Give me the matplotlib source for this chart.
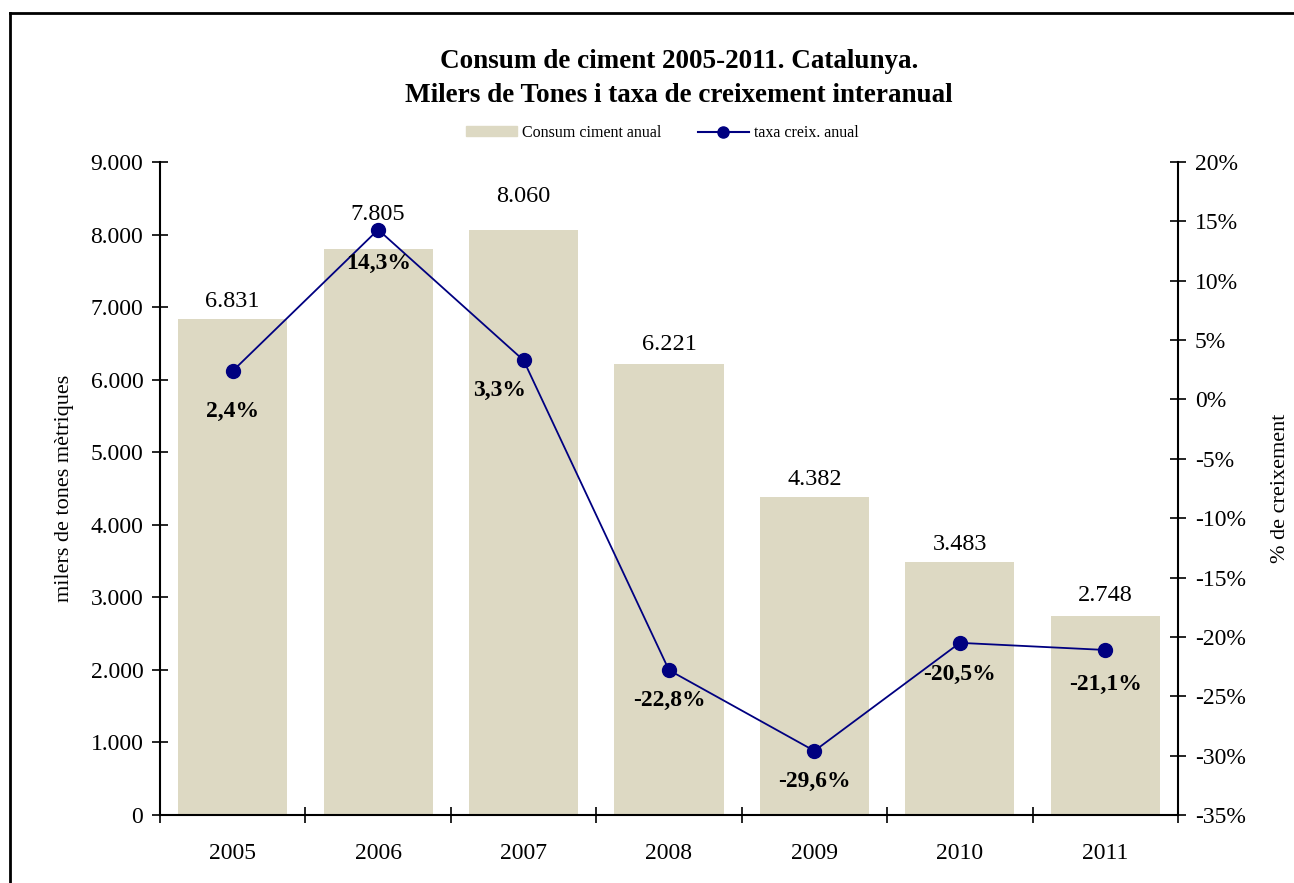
import matplotlib
matplotlib.use("Agg")
import matplotlib.pyplot as plt
from matplotlib.lines import Line2D
from matplotlib.ticker import FuncFormatter, MultipleLocator

years = ["2005", "2006", "2007", "2008", "2009", "2010", "2011"]
consum = [6831, 7805, 8060, 6221, 4382, 3483, 2748]
taxa = [2.4, 14.3, 3.3, -22.8, -29.6, -20.5, -21.1]

plt.rcParams['font.family'] = ['Liberation Serif', 'DejaVu Serif']

W, H = 1294, 883
fig = plt.figure(figsize=(W / 100, H / 100), dpi=100)
ax = fig.add_axes([160 / W, 1 - 815 / H, (1178 - 160) / W, (815 - 162) / H])
ax2 = ax.twinx()

x = list(range(len(years)))
ax.bar(x, consum, width=0.75, color="#DDD9C3", zorder=1)
ax.set_xlim(-0.5, len(years) - 0.5)
ax.set_ylim(0, 9000)
ax.yaxis.set_major_locator(MultipleLocator(1000))
ax.yaxis.set_major_formatter(FuncFormatter(lambda v, p: f"{int(v):,}".replace(",", ".")))
ax.set_xticks([i - 0.5 for i in range(len(years) + 1)], minor=False)
ax.set_xticklabels([""] * (len(years) + 1))
ax.set_xticks(x, minor=True)
ax.set_xticklabels(years, minor=True)
ax.tick_params(axis="x", which="minor", length=0, pad=20, labelsize=17)
ax.tick_params(axis="x", which="major", direction="inout", length=12, width=1.2)
ax.tick_params(axis="y", direction="inout", length=12, width=1.2, labelsize=17, pad=6)
for s in ["top", "right"]:
    ax.spines[s].set_visible(False)
ax.spines["left"].set_linewidth(1.5)
ax.spines["bottom"].set_linewidth(1.5)
ax.set_ylabel("milers de tones mètriques", fontsize=16, labelpad=12)

bar_offsets = [5, 17, 17, 6, 5, 5, 7]
for xi, v, off in zip(x, consum, bar_offsets):
    ax.annotate(f"{v:,}".replace(",", "."), (xi, v), xytext=(0, off), textcoords="offset points",
                ha="center", va="bottom", fontsize=17.5)

ax2.plot(x, taxa, color="#000080", marker="o", markersize=10, linewidth=1.3, zorder=3)
ax2.set_ylim(-35, 20)
ax2.yaxis.set_major_locator(MultipleLocator(5))
ax2.yaxis.set_major_formatter(FuncFormatter(lambda v, p: f"{int(round(v))}%"))
ax2.tick_params(axis="y", direction="inout", length=12, width=1.2, labelsize=17, pad=6)
for s in ["top", "left", "bottom"]:
    ax2.spines[s].set_visible(False)
ax2.spines["right"].set_linewidth(1.5)
ax2.set_ylabel("% de creixement", fontsize=16, labelpad=18)

offsets = [(0, -29), (0, -24), (-17, -22), (0, -22), (0, -22), (0, -23), (0, -25)]
for xi, v, off in zip(x, taxa, offsets):
    ax2.annotate(f"{v:.1f}%".replace(".", ","), (xi, v), xytext=off, textcoords="offset points",
                 ha="center", va="center", fontsize=17, fontweight="bold")

fig.text(679 / W, 1 - 62 / H, "Consum de ciment 2005-2011. Catalunya.",
         ha="center", va="center", fontsize=19.5, fontweight="bold")
fig.text(679 / W, 1 - 96 / H, "Milers de Tones i taxa de creixement interanual",
         ha="center", va="center", fontsize=19.5, fontweight="bold")

handles = [plt.Rectangle((0, 0), 1, 1, color="#DDD9C3"),
           Line2D([0], [0], color="#000080", marker="o", markersize=8, linewidth=1.5)]
fig.legend(handles, ["Consum ciment anual", "taxa creix. anual"], loc="center",
           bbox_to_anchor=(662 / W, 1 - 133 / H), ncol=2, frameon=False, fontsize=11.5,
           handlelength=3.2, handletextpad=0.3, columnspacing=2.3, handleheight=0.6)

fig.add_artist(Line2D([9.5 / W, 9.5 / W], [0, 1 - 12.5 / H], transform=fig.transFigure,
                      color="black", linewidth=2))
fig.add_artist(Line2D([9.5 / W, 1], [1 - 12.5 / H, 1 - 12.5 / H], transform=fig.transFigure,
                      color="black", linewidth=2))

fig.savefig("out.png", dpi=100)
